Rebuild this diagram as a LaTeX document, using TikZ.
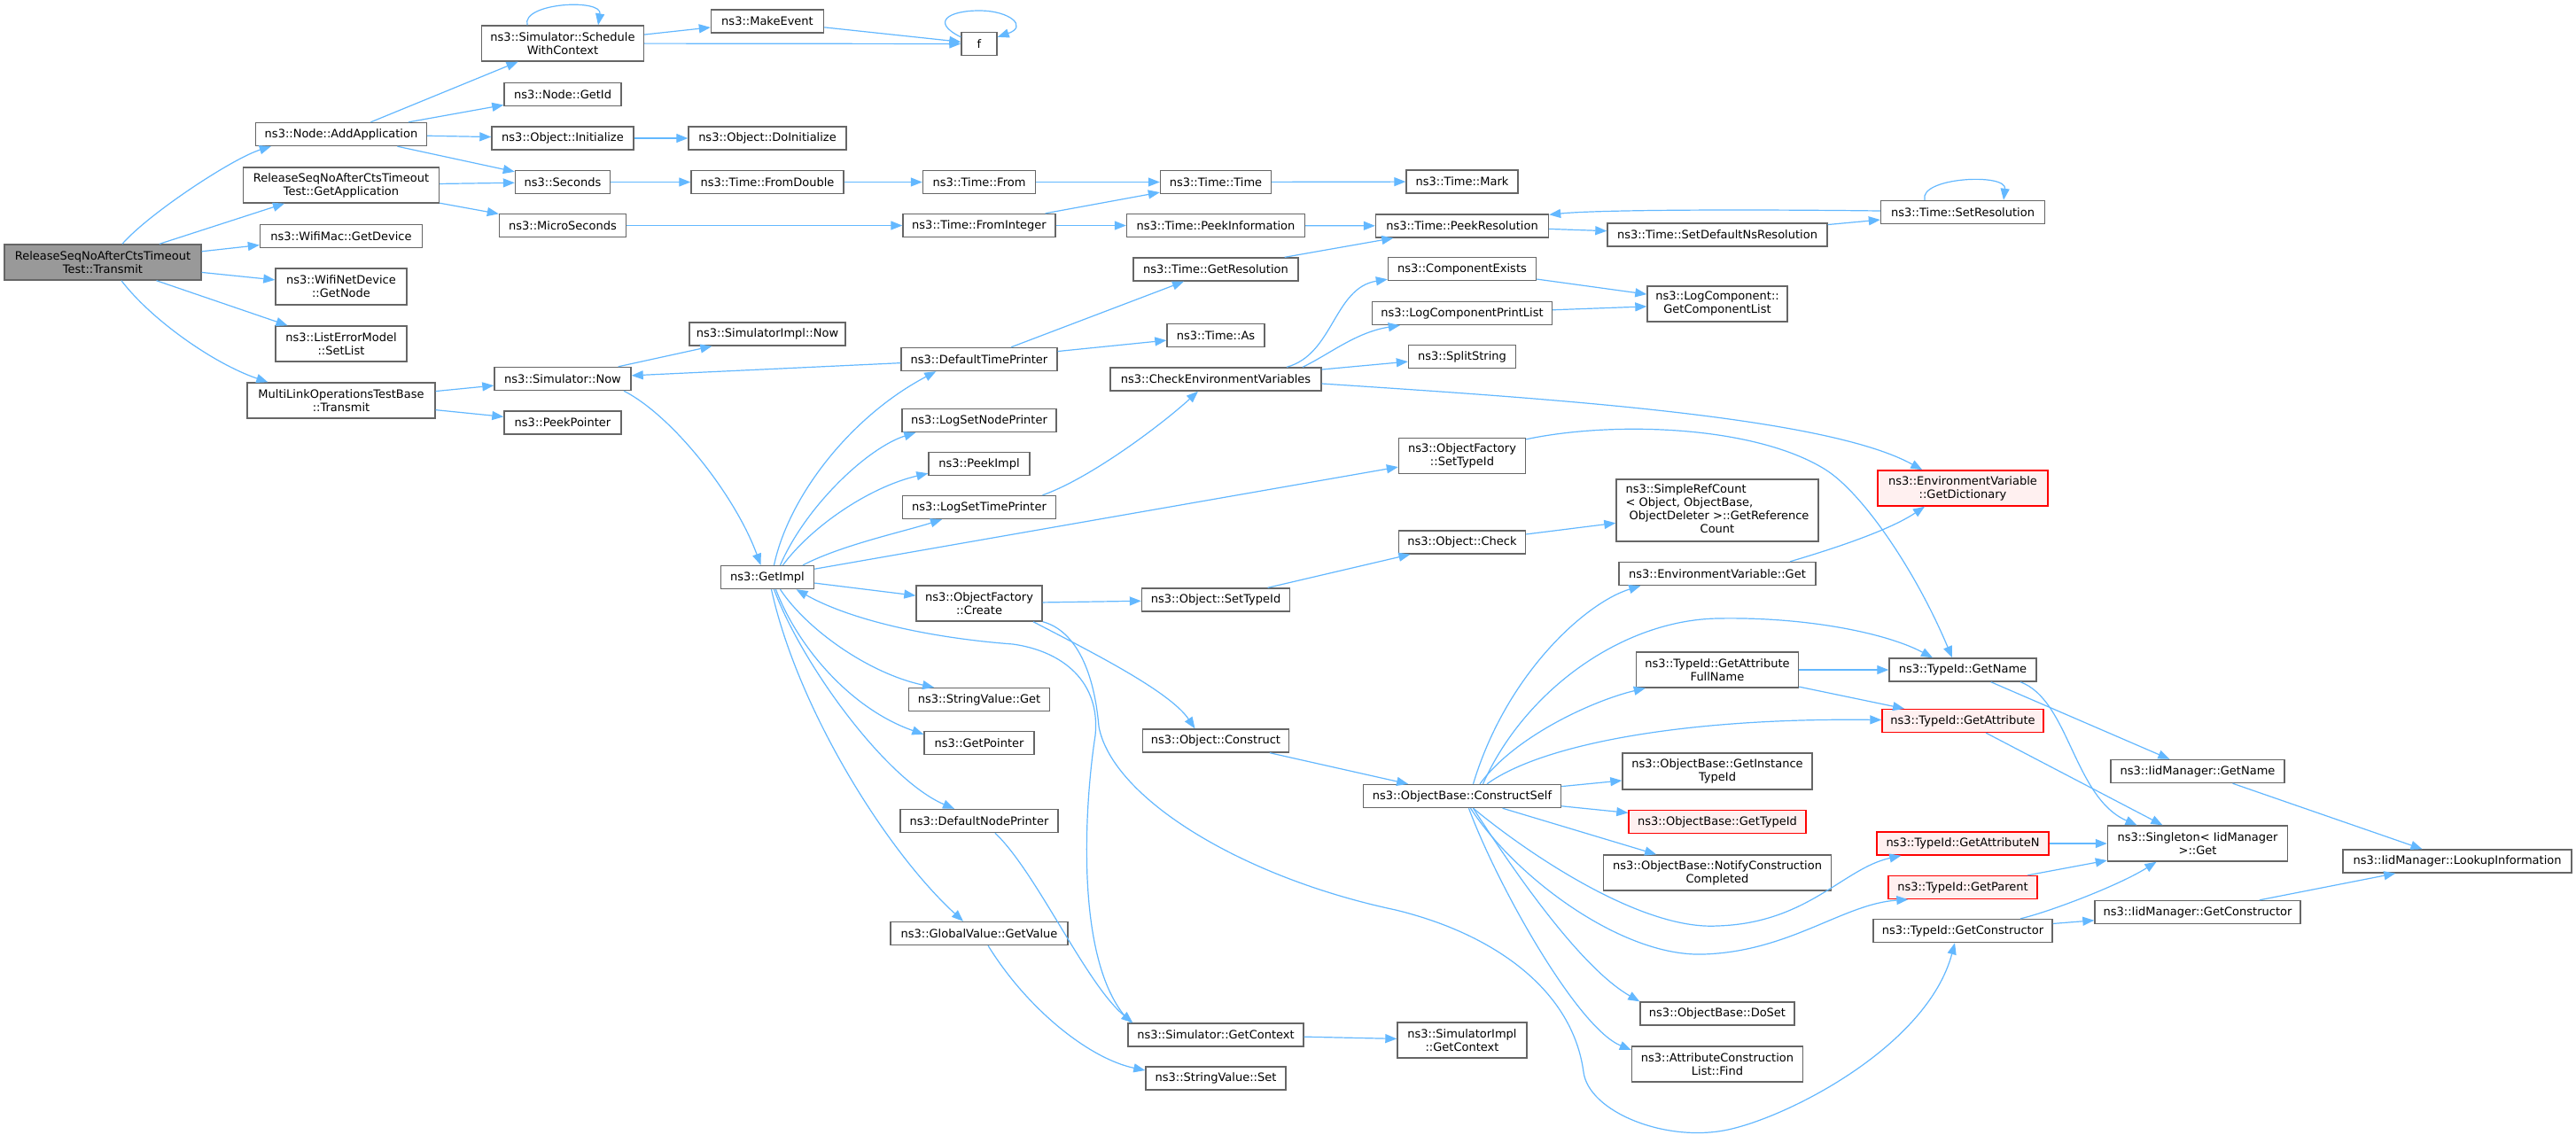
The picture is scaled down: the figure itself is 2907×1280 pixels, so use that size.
\documentclass[tikz,border=0pt]{standalone}
\usepackage{fontspec}
\newfontfamily\dvsans{DejaVu Sans}
\newcommand\nfont{\dvsans\fontsize{13}{15}\selectfont}
\usetikzlibrary{arrows.meta}
\definecolor{edgeblue}{HTML}{63B8FF}
\definecolor{nodegray}{HTML}{666666}
\definecolor{rootgray}{HTML}{999999}
\definecolor{redfill}{HTML}{FFF0F0}
\definecolor{redline}{HTML}{FF0000}
\begin{document}
\begin{tikzpicture}[x=1pt,y=-1pt,
  nb/.style={draw=nodegray, fill=white, line width=1.4pt, inner sep=0pt, align=center, font=\nfont, text=black},
  rednb/.style={nb, draw=redline, fill=redfill},
  rootnb/.style={nb, fill=rootgray},
  conn/.style={draw=edgeblue, line width=1.2pt, -{Triangle[length=13pt,width=10pt]}}]
\fill[white] (0,0) rectangle (2907,1280);
\useasboundingbox (0,0) rectangle (2907,1280);

% column 1-2
\node[rootnb, minimum width=222, minimum height=40] (root) at (116,296) {ReleaseSeqNoAfterCtsTimeout\\Test::Transmit};
\node[nb, minimum width=193, minimum height=26] (addapp) at (385,151.5) {ns3::Node::AddApplication};
\node[nb, minimum width=221, minimum height=40] (getapp) at (385,209) {ReleaseSeqNoAfterCtsTimeout\\Test::GetApplication};
\node[nb, minimum width=183, minimum height=26] (getdevice) at (385,266.5) {ns3::WifiMac::GetDevice};
\node[nb, minimum width=148, minimum height=41] (getnode) at (385,323.5) {ns3::WifiNetDevice\\::GetNode};
\node[nb, minimum width=148, minimum height=40] (setlist) at (385,388) {ns3::ListErrorModel\\::SetList};
\node[nb, minimum width=212, minimum height=40] (mlt) at (385,452) {MultiLinkOperationsTestBase\\::Transmit};
% column 3
\node[nb, minimum width=183, minimum height=40] (swc) at (635,49) {ns3::Simulator::Schedule\\WithContext};
\node[nb, minimum width=132, minimum height=26] (getid) at (635,106.5) {ns3::Node::GetId};
\node[nb, minimum width=160, minimum height=26] (init) at (635,156) {ns3::Object::Initialize};
\node[nb, minimum width=107, minimum height=26] (seconds) at (635,205.5) {ns3::Seconds};
\node[nb, minimum width=143, minimum height=26] (micro) at (635,254.5) {ns3::MicroSeconds};
\node[nb, minimum width=154, minimum height=26] (now) at (635,427.5) {ns3::Simulator::Now};
\node[nb, minimum width=132, minimum height=26] (peekptr) at (635,477) {ns3::PeekPointer};
% column 4
\node[nb, minimum width=127, minimum height=26] (makeevent) at (866,24) {ns3::MakeEvent};
\node[nb, minimum width=178, minimum height=26] (doinit) at (866,156) {ns3::Object::DoInitialize};
\node[nb, minimum width=172, minimum height=26] (fromdouble) at (866,205.5) {ns3::Time::FromDouble};
\node[nb, minimum width=176, minimum height=26] (implnow) at (866,377) {ns3::SimulatorImpl::Now};
\node[nb, minimum width=105, minimum height=26] (getimpl) at (866,651.5) {ns3::GetImpl};
% column 5
\node[nb, minimum width=40, minimum height=26] (f) at (1105,49.5) {f};
\node[nb, minimum width=127, minimum height=26] (from) at (1105,205.5) {ns3::Time::From};
\node[nb, minimum width=172, minimum height=26] (fromint) at (1105,254.5) {ns3::Time::FromInteger};
\node[nb, minimum width=176, minimum height=26] (dtp) at (1105,405.5) {ns3::DefaultTimePrinter};
\node[nb, minimum width=174, minimum height=26] (lsnp) at (1105,474.5) {ns3::LogSetNodePrinter};
\node[nb, minimum width=114, minimum height=26] (peekimpl) at (1105,523.5) {ns3::PeekImpl};
\node[nb, minimum width=173, minimum height=26] (lstp) at (1105,572.5) {ns3::LogSetTimePrinter};
\node[nb, minimum width=142, minimum height=40] (create) at (1105,681) {ns3::ObjectFactory\\::Create};
\node[nb, minimum width=159, minimum height=26] (svget) at (1105,789.5) {ns3::StringValue::Get};
\node[nb, minimum width=124, minimum height=26] (getptr) at (1105,838.5) {ns3::GetPointer};
\node[nb, minimum width=178, minimum height=26] (dnp) at (1105,926.5) {ns3::DefaultNodePrinter};
\node[nb, minimum width=200, minimum height=26] (gvget) at (1105,1053.5) {ns3::GlobalValue::GetValue};
% column 6
\node[nb, minimum width=125, minimum height=26] (timetime) at (1372,205.5) {ns3::Time::Time};
\node[nb, minimum width=201, minimum height=26] (peekinfo) at (1372,254.5) {ns3::Time::PeekInformation};
\node[nb, minimum width=186, minimum height=26] (getres) at (1372,304) {ns3::Time::GetResolution};
\node[nb, minimum width=110, minimum height=26] (as) at (1372,378.5) {ns3::Time::As};
\node[nb, minimum width=238, minimum height=26] (checkenv) at (1372,428) {ns3::CheckEnvironmentVariables};
\node[nb, minimum width=167, minimum height=26] (objsettid) at (1372,677) {ns3::Object::SetTypeId};
\node[nb, minimum width=165, minimum height=26] (construct) at (1372,836) {ns3::Object::Construct};
\node[nb, minimum width=198, minimum height=26] (simgetctx) at (1372,1168) {ns3::Simulator::GetContext};
\node[nb, minimum width=158, minimum height=26] (svset) at (1372,1217) {ns3::StringValue::Set};
% column 7
\node[nb, minimum width=126, minimum height=26] (mark) at (1650,205) {ns3::Time::Mark};
\node[nb, minimum width=195, minimum height=26] (peekres) at (1650,255) {ns3::Time::PeekResolution};
\node[nb, minimum width=167, minimum height=26] (compexists) at (1650,303.5) {ns3::ComponentExists};
\node[nb, minimum width=203, minimum height=26] (lcpl) at (1650,353.5) {ns3::LogComponentPrintList};
\node[nb, minimum width=121, minimum height=26] (split) at (1650,402.5) {ns3::SplitString};
\node[nb, minimum width=143, minimum height=40] (ofsettid) at (1650,514.5) {ns3::ObjectFactory\\::SetTypeId};
\node[nb, minimum width=143, minimum height=26] (check) at (1650,612) {ns3::Object::Check};
\node[nb, minimum width=223, minimum height=26] (cs) at (1650,898.5) {ns3::ObjectBase::ConstructSelf};
\node[nb, minimum width=146, minimum height=40] (implgetctx) at (1650,1174) {ns3::SimulatorImpl\\::GetContext};
% column 8
\node[nb, minimum width=248, minimum height=26] (setdefns) at (1938,265) {ns3::Time::SetDefaultNsResolution};
\node[nb, minimum width=158, minimum height=40] (getcomplist) at (1938,343) {ns3::LogComponent::\\GetComponentList};
\node[nb, minimum width=228, minimum height=70] (simpleref) at (1938,576) {\begin{tabular}{@{}l@{}}ns3::SimpleRefCount\\< Object, ObjectBase,\\\ ObjectDeleter >::GetReference\\\multicolumn{1}{@{}c@{}}{Count}\end{tabular}};
\node[nb, minimum width=222, minimum height=26] (envget) at (1938,647.5) {ns3::EnvironmentVariable::Get};
\node[nb, minimum width=183, minimum height=40] (getattrfull) at (1938,756) {ns3::TypeId::GetAttribute\\FullName};
\node[nb, minimum width=214, minimum height=41] (getinst) at (1938,870.5) {ns3::ObjectBase::GetInstance\\TypeId};
\node[rednb, minimum width=200, minimum height=26] (obgettid) at (1938,927.5) {ns3::ObjectBase::GetTypeId};
\node[nb, minimum width=257, minimum height=40] (notify) at (1938,985) {ns3::ObjectBase::NotifyConstruction\\Completed};
\node[nb, minimum width=174, minimum height=26] (doset) at (1938,1144) {ns3::ObjectBase::DoSet};
\node[nb, minimum width=193, minimum height=40] (find) at (1938,1201) {ns3::AttributeConstruction\\List::Find};
% column 9
\node[nb, minimum width=185, minimum height=26] (setres) at (2215,239.5) {ns3::Time::SetResolution};
\node[rednb, minimum width=192, minimum height=40] (getdict) at (2215,551) {ns3::EnvironmentVariable\\::GetDictionary};
\node[nb, minimum width=166, minimum height=26] (tgetname) at (2215,756) {ns3::TypeId::GetName};
\node[rednb, minimum width=182, minimum height=26] (tgetattr) at (2215,813.5) {ns3::TypeId::GetAttribute};
\node[rednb, minimum width=194, minimum height=26] (getattrn) at (2215,952) {ns3::TypeId::GetAttributeN};
\node[rednb, minimum width=168, minimum height=26] (getparent) at (2215,1001.5) {ns3::TypeId::GetParent};
\node[nb, minimum width=202, minimum height=26] (tgetctor) at (2215,1050.5) {ns3::TypeId::GetConstructor};
% column 10-11
\node[nb, minimum width=196, minimum height=26] (iidgetname) at (2480,870.5) {ns3::IidManager::GetName};
\node[nb, minimum width=203, minimum height=40] (singleton) at (2480,952) {ns3::Singleton< IidManager\\ >::Get};
\node[nb, minimum width=232, minimum height=26] (iidgetctor) at (2480,1029.5) {ns3::IidManager::GetConstructor};
\node[nb, minimum width=258, minimum height=26] (lookup) at (2773,972) {ns3::IidManager::LookupInformation};

% ---- edges from root
\draw[conn] ([xshift=22]root.north) .. controls (168,241) and (262,179) .. ([xshift=18]addapp.south west);
\draw[conn] (root) -- (getapp);
\draw[conn] (root) -- (getdevice);
\draw[conn] (root) -- (getnode);
\draw[conn] (root) -- (setlist);
\draw[conn] ([xshift=21]root.south) .. controls (170,360) and (240,410) .. ([xshift=24]mlt.north west);
% ---- column 2
\draw[conn] (addapp) -- (swc);
\draw[conn] (addapp) -- (getid);
\draw[conn] (addapp) -- (init);
\draw[conn] (addapp) -- (seconds);
\draw[conn] (getapp) -- (seconds);
\draw[conn] (getapp) -- (micro);
\draw[conn] (mlt) -- (now);
\draw[conn] (mlt) -- (peekptr);
% ---- column 3
\draw[conn] ([xshift=-40]swc.north) .. controls (588,3) and (680,-2) .. ([xshift=40]swc.north);
\draw[conn] (swc) -- (makeevent);
\draw[conn] (swc) -- (f);
\draw[conn] (makeevent) -- (f);
\draw[conn] ([yshift=-6]f.north west) .. controls (1050,25) and (1070,12) .. (1105,12) .. controls (1140,12) and (1160,30) .. ([yshift=-6]f.north east);
\draw[conn] (init) -- (doinit);
\draw[conn] (seconds) -- (fromdouble);
\draw[conn] (micro) -- (fromint);
\draw[conn] (fromdouble) -- (from);
\draw[conn] (from) -- (timetime);
\draw[conn] (fromint) -- (timetime);
\draw[conn] (fromint) -- (peekinfo);
\draw[conn] (timetime) -- (mark);
\draw[conn] (peekinfo) -- (peekres);
\draw[conn] (getres) -- (peekres);
\draw[conn] (peekres) -- (setdefns);
\draw[conn] (setdefns) -- (setres);
\draw[conn] ([xshift=-43]setres.north) .. controls (2165,200) and (2265,195) .. ([xshift=46]setres.north);
\draw[conn] ([yshift=1.5]setres.west) .. controls (1950,236) and (1800,237) .. ([yshift=-1]peekres.north east);
\draw[conn] (now) -- (implnow);
\draw[conn] ([xshift=69]now.south) .. controls (760,470) and (830,560) .. ([xshift=-7.5]getimpl.north);
\draw[conn] (dtp) -- (now);
\draw[conn] (dtp) -- (getres);
\draw[conn] (dtp) -- (as);
% ---- GetImpl
\draw[conn] ([xshift=7.5]getimpl.north) .. controls (890,560) and (960,470) .. ([xshift=40]dtp.south west);
\draw[conn] ([xshift=14.5]getimpl.north) .. controls (910,570) and (980,505) .. ([xshift=16]lsnp.south west);
\draw[conn] ([xshift=17.5]getimpl.north) .. controls (915,595) and (980,550) .. ([yshift=3]peekimpl.south west);
\draw[conn] ([xshift=40]getimpl.north) .. controls (950,615) and (1020,600) .. ([xshift=-42]lstp.south);
\draw[conn] (getimpl) -- (ofsettid);
\draw[conn] (getimpl) -- (create);
\draw[conn] ([xshift=14.5]getimpl.south) .. controls (910,710) and (980,760) .. ([xshift=-51]svget.north);
\draw[conn] ([xshift=9.5]getimpl.south) .. controls (900,730) and (960,800) .. ([yshift=-4]getptr.north west);
\draw[conn] ([xshift=7.5]getimpl.south) .. controls (905,750) and (1000,880) .. ([xshift=-28]dnp.north);
\draw[conn] ([xshift=4.5]getimpl.south) .. controls (900,800) and (1000,960) .. ([xshift=-18]gvget.north);
\draw[conn] ([xshift=4]simgetctx.north west) .. controls (1210,1090) and (1225,900) .. (1236,830) .. controls (1242,770) and (1200,735) .. (1143,727) .. controls (1050,720) and (960,700) .. ([xshift=32.5]getimpl.south);
\draw[conn] ([xshift=18]dnp.south) .. controls (1170,985) and (1225,1110) .. ([xshift=6]simgetctx.north west);
\draw[conn] ([xshift=10]gvget.south) .. controls (1160,1140) and (1230,1195) .. ([yshift=9]svset.west);
\draw[conn] (simgetctx) -- (implgetctx);
% ---- ObjectFactory::Create
\draw[conn] (create) -- (objsettid);
\draw[conn] ([xshift=61]create.south) .. controls (1230,735) and (1320,780) .. ([xshift=-23.5]construct.north);
\draw[conn] (create.south east) .. controls (1215,712) and (1235,760) .. (1240,820) .. controls (1255,900) and (1400,990) .. (1575,1027) .. controls (1690,1055) and (1775,1120) .. (1787,1210) .. controls (1793,1255) and (1880,1290) .. (1950,1275) .. controls (2020,1260) and (2175,1180) .. ([xshift=-9]tgetctor.south);
\draw[conn] (objsettid) -- (check);
\draw[conn] (check) -- (simpleref);
\draw[conn] (construct) -- (cs);
\draw[conn] ([yshift=-2]ofsettid.north east) .. controls (1820,475) and (1980,480) .. (2060,530) .. controls (2100,555) and (2160,640) .. ([xshift=-12]tgetname.north);
% ---- environment
\draw[conn] ([xshift=71.5]lstp.north) .. controls (1230,540) and (1310,480) .. ([xshift=-20]checkenv.south);
\draw[conn] ([xshift=80]checkenv.north) .. controls (1505,400) and (1505,325) .. ([yshift=2]compexists.south west);
\draw[conn] ([xshift=98]checkenv.north) .. controls (1500,400) and (1530,375) .. ([xshift=32]lcpl.south west);
\draw[conn] (checkenv) -- (split);
\draw[conn] ([yshift=-5]checkenv.east) .. controls (1750,450) and (2060,470) .. ([xshift=51]getdict.north west);
\draw[conn] (compexists) -- (getcomplist);
\draw[conn] (lcpl) -- (getcomplist);
\draw[conn] ([xshift=82]envget.north) .. controls (2060,622) and (2130,600) .. ([xshift=-43]getdict.south);
% ---- ConstructSelf
\draw[conn] ([xshift=12.5]cs.north) .. controls (1700,760) and (1790,680) .. ([xshift=25]envget.south west);
\draw[conn] ([xshift=23.5]cs.north) .. controls (1720,780) and (1830,700) .. (1938,698) .. controls (2040,696) and (2130,715) .. ([xshift=-34]tgetname.north);
\draw[conn] ([xshift=20]cs.north) .. controls (1710,830) and (1800,790) .. ([xshift=11]getattrfull.south west);
\draw[conn] ([xshift=28]cs.north) .. controls (1740,840) and (1900,810) .. ([yshift=1]tgetattr.west);
\draw[conn] (cs) -- (getinst);
\draw[conn] (cs) -- (obgettid);
\draw[conn] (cs) -- (notify);
\draw[conn] ([xshift=12.5]cs.south) .. controls (1720,960) and (1850,1050) .. (1938,1045) .. controls (2040,1042) and (2080,980) .. ([xshift=28]getattrn.south west);
\draw[conn] ([xshift=9.5]cs.south) .. controls (1710,990) and (1830,1080) .. (1922,1077) .. controls (2020,1074) and (2080,1020) .. ([xshift=23]getparent.south west);
\draw[conn] ([xshift=12.5]cs.south) .. controls (1700,970) and (1780,1090) .. (doset.north west);
\draw[conn] ([xshift=7.5]cs.south) .. controls (1690,1000) and (1780,1160) .. ([yshift=16]find.west);
% ---- TypeId
\draw[conn] (getattrfull) -- (tgetname);
\draw[conn] (getattrfull) -- (tgetattr);
\draw[conn] (tgetname) -- (iidgetname);
\draw[conn] ([xshift=65]tgetname.south) .. controls (2335,790) and (2340,900) .. ([xshift=-68.5]singleton.north);
\draw[conn] (tgetattr) -- (singleton);
\draw[conn] (getattrn) -- (singleton);
\draw[conn] (getparent) -- (singleton);
\draw[conn] ([xshift=65]tgetctor.north) .. controls (2310,1030) and (2390,1000) .. ([xshift=-46.5]singleton.south);
\draw[conn] (tgetctor) -- (iidgetctor);
\draw[conn] (iidgetname) -- (lookup);
\draw[conn] (iidgetctor) -- (lookup);
\end{tikzpicture}
\end{document}
